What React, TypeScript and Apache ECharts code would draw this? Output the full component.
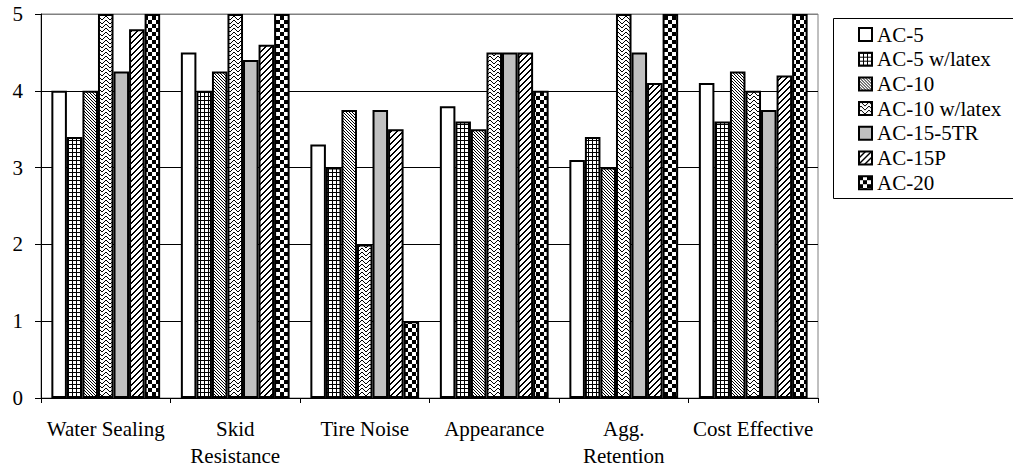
import React, { useEffect, useRef } from "react";
import * as echarts from "echarts";

const categories = ["Water Sealing", "Skid\nResistance", "Tire Noise", "Appearance", "Agg.\nRetention", "Cost Effective"];
const seriesNames = ["AC-5", "AC-5 w/latex", "AC-10", "AC-10 w/latex", "AC-15-5TR", "AC-15P", "AC-20"];
const ac5 = [4.0, 4.5, 3.3, 3.8, 3.1, 4.1];
const ac5Latex = [3.4, 4.0, 3.0, 3.6, 3.4, 3.6];
const ac10 = [4.0, 4.25, 3.75, 3.5, 3.0, 4.25];
const ac10Latex = [5.0, 5.0, 2.0, 4.5, 5.0, 4.0];
const ac155tr = [4.25, 4.4, 3.75, 4.5, 4.5, 3.75];
const ac15p = [4.8, 4.6, 3.5, 4.5, 4.1, 4.2];
const ac20 = [5.0, 5.0, 1.0, 4.0, 5.0, 5.0];
const yTicks = [0, 1, 2, 3, 4, 5];

const FONT = "'Liberation Serif', 'Times New Roman', serif";
const FS = 21;

function makeTile(size: number, draw: (set: (x: number, y: number) => void) => void) {
  const c = document.createElement("canvas");
  c.width = size;
  c.height = size;
  const ctx = c.getContext("2d")!;
  ctx.fillStyle = "#ffffff";
  ctx.fillRect(0, 0, size, size);
  ctx.fillStyle = "#000000";
  draw((x, y) => ctx.fillRect(((x % size) + size) % size, ((y % size) + size) % size, 1, 1));
  return { image: c.toDataURL(), repeat: "repeat", imageWidth: size, imageHeight: size } as any;
}

export default function App() {
  const ref = useRef<HTMLDivElement>(null);
  useEffect(() => {
    if (!ref.current) return;
    const chart = echarts.init(ref.current, null, { renderer: "svg" });

    const gridPat = makeTile(4, (set) => {
      for (let i = 0; i < 4; i++) {
        set(i, 0);
        set(0, i);
      }
    });
    const diagFine = makeTile(3, (set) => {
      for (let i = 0; i < 3; i++) set(i, i);
    });
    const wave = makeTile(8, (set) => {
      const pts = [
        [0, 1], [1, 0], [2, 0], [3, 1], [4, 2], [5, 3], [6, 3], [7, 2],
        [0, 5], [1, 4], [2, 4], [3, 5], [4, 6], [5, 7], [6, 7], [7, 6],
      ];
      pts.forEach(([x, y]) => set(x, y));
    });
    const diagWide = makeTile(6, (set) => {
      for (let y = 0; y < 6; y++) {
        set(5 - y, y);
        set(6 - y, y);
      }
    });
    const checker = makeTile(8, (set) => {
      for (let y = 0; y < 8; y++)
        for (let x = 0; x < 8; x++) if ((Math.floor(x / 4) + Math.floor(y / 4)) % 2 === 0) set(x, y);
    });

    const fills: any[] = ["#ffffff", gridPat, diagFine, wave, "#c0c0c0", diagWide, checker];
    const data = [ac5, ac5Latex, ac10, ac10Latex, ac155tr, ac15p, ac20];

    const option: any = {
      animation: false,
      backgroundColor: "#ffffff",
      textStyle: { fontFamily: FONT },
      grid: {
        left: 41,
        right: 195,
        top: 14,
        bottom: 74,
        show: true,
        borderColor: "#808080",
        borderWidth: 1,
        backgroundColor: "transparent",
      },
      legend: {
        orient: "vertical",
        left: 858,
        top: 24,
        padding: 0,
        itemWidth: 13,
        itemHeight: 13,
        itemGap: 3.7,
        icon: "rect",
        data: seriesNames,
        textStyle: { fontFamily: FONT, fontSize: FS, color: "#000" },
        selectedMode: false,
      },
      graphic: [
        {
          type: "rect",
          shape: { x: 833.5, y: 18.5, width: 200, height: 180 },
          style: { fill: "#ffffff", stroke: "#000", lineWidth: 1 },
          z: -1,
          silent: true,
        },
      ],
      xAxis: {
        type: "category",
        data: categories,
        axisLine: { lineStyle: { color: "#000", width: 1 } },
        axisTick: { show: true, length: 5, lineStyle: { color: "#000" } },
        axisLabel: {
          fontFamily: FONT,
          fontSize: FS,
          color: "#000",
          lineHeight: 27,
          margin: 17,
          interval: 0,
        },
      },
      yAxis: {
        type: "value",
        min: 0,
        max: 5,
        interval: 1,
        axisLine: { show: true, lineStyle: { color: "#000", width: 1 } },
        axisTick: { show: true, length: 6, lineStyle: { color: "#000" } },
        axisLabel: { fontFamily: FONT, fontSize: FS, color: "#000", margin: 18 },
        splitLine: {
          show: true,
          lineStyle: { color: ["#000", "#000", "#000", "#000", "#000", "#808080"], width: 1 },
        },
      },
      series: seriesNames.map((name, i) => ({
        name,
        type: "bar",
        data: data[i],
        barGap: "0%",
        barCategoryGap: "16%",
        itemStyle: { color: fills[i], borderColor: "#000", borderWidth: 2 },
      })),
    };
    chart.setOption(option);
    return () => chart.dispose();
  }, []);
  return (
    <div
      ref={ref}
      style={{ position: "absolute", left: 0, top: 0, width: 1013, height: 472, background: "#fff" }}
    />
  );
}
